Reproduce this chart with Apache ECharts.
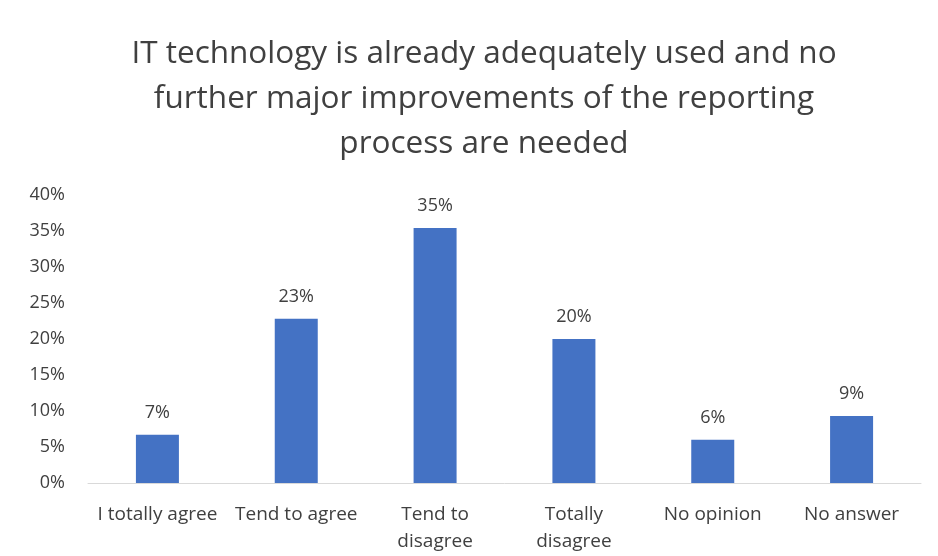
<!DOCTYPE html>
<html>
<head>
<meta charset="utf-8">
<script src="https://cdn.jsdelivr.net/npm/echarts@6/dist/echarts.min.js"></script>
<style>
html,body{margin:0;padding:0;background:#fff;}
#chart{width:938px;height:556px;}
</style>
</head>
<body>
<div id="chart"></div>
<script>
var titleText = 'IT technology is already adequately used and no\nfurther major improvements of the reporting\nprocess are needed';
var categories = ['I totally agree', 'Tend to agree', 'Tend to\ndisagree', 'Totally\ndisagree', 'No opinion', 'No answer'];
var values = [6.7, 22.8, 35.4, 20.0, 6.0, 9.3];
var yMin = 0, yMax = 40, yStep = 5;

var font = 'Open Sans';
var chart = echarts.init(document.getElementById('chart'));
chart.setOption({
  animation: false,
  backgroundColor: '#ffffff',
  title: {
    text: titleText,
    left: 479,
    textAlign: 'center',
    top: 27,
    textStyle: {
      fontFamily: font,
      fontSize: 31.5,
      fontWeight: 'normal',
      color: '#404040',
      lineHeight: 45
    }
  },
  grid: { left: 88, right: 17, top: 195, bottom: 73, containLabel: false },
  xAxis: {
    type: 'category',
    data: categories,
    axisLine: { show: true, lineStyle: { color: '#d9d9d9', width: 1 } },
    axisTick: { show: false },
    axisLabel: {
      interval: 0,
      margin: 18,
      fontFamily: font,
      fontSize: 19,
      color: '#404040',
      lineHeight: 27
    }
  },
  yAxis: {
    type: 'value',
    min: yMin,
    max: yMax,
    interval: yStep,
    axisLine: { show: false },
    axisTick: { show: false },
    splitLine: { show: false },
    axisLabel: {
      margin: 23,
      fontFamily: font,
      fontSize: 18,
      color: '#404040',
      formatter: '{value}%'
    }
  },
  series: [{
    type: 'bar',
    data: values,
    barWidth: 43,
    itemStyle: { color: '#4472C4' },
    label: {
      show: true,
      position: 'top',
      distance: 13,
      fontFamily: font,
      fontSize: 18,
      color: '#404040',
      formatter: function (p) { return Math.round(p.value) + '%'; }
    }
  }]
});
</script>
</body>
</html>
